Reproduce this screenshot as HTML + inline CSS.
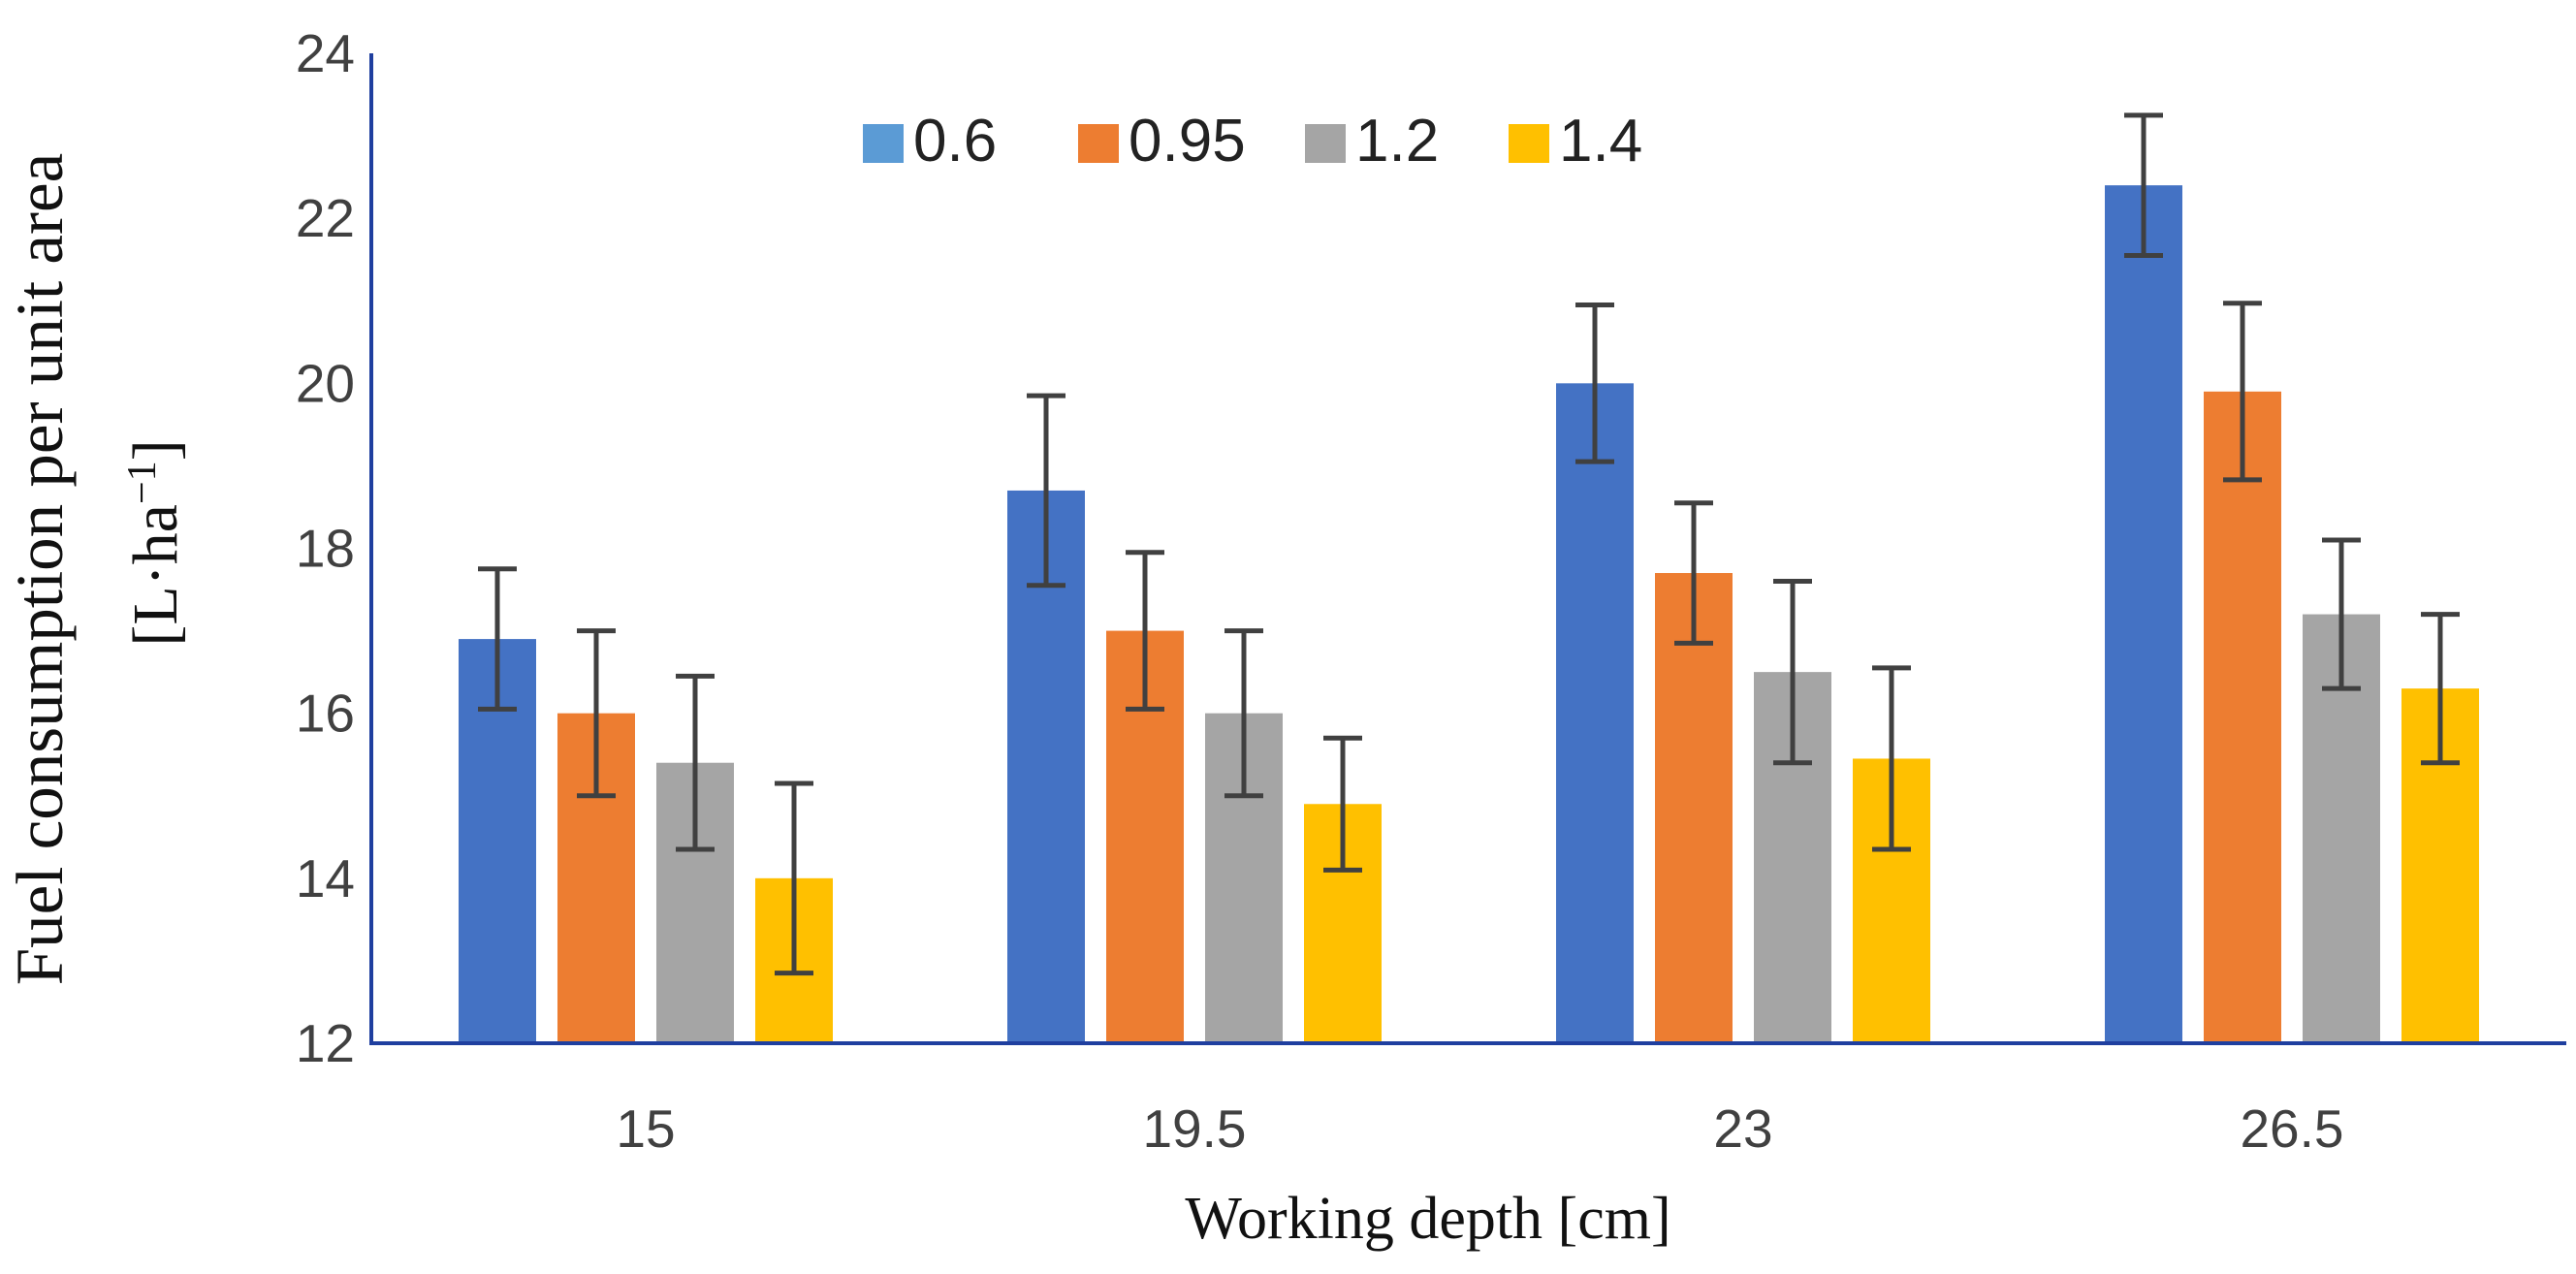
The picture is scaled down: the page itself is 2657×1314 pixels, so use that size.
<!DOCTYPE html>
<html><head><meta charset="utf-8"><style>
html,body{margin:0;padding:0;background:#fff;}
svg{display:block;}
.tick{font-family:"Liberation Sans",sans-serif;font-size:55px;fill:#404040;}
.ttl{font-family:"Liberation Serif",serif;font-size:62px;fill:#111;}
.leg{font-family:"Liberation Sans",sans-serif;font-size:62px;fill:#222;}
</style></head><body>
<svg id="chart" width="2657" height="1314" viewBox="0 0 2657 1314" xmlns="http://www.w3.org/2000/svg">
<text class="ttl" transform="translate(64,587) rotate(-90)" text-anchor="middle" style="font-size:69px">Fuel consumption per unit area</text>
<text class="ttl" transform="translate(182,560) rotate(-90)" text-anchor="middle" style="font-size:66px">[L·ha<tspan dy="-22" font-size="42">−1</tspan><tspan dy="22">]</tspan></text>
<text class="ttl" x="1473" y="1277" text-anchor="middle">Working depth [cm]</text>
<g id="plot"></g>
</svg>
<script>
const categories = ["15","19.5","23","26.5"];
const seriesNames = ["0.6","0.95","1.2","1.4"];
const s06 = [16.9, 18.7, 20.0, 22.4];
const s095 = [16.0, 17.0, 17.7, 19.9];
const s12 = [15.4, 16.0, 16.5, 17.2];
const s14 = [14.0, 14.9, 15.45, 16.3];
const e06 = [0.85, 1.15, 0.95, 0.85];
const e095 = [1.0, 0.95, 0.85, 1.07];
const e12 = [1.05, 1.0, 1.1, 0.9];
const e14 = [1.15, 0.8, 1.1, 0.9];
const yTicks = [12,14,16,18,20,22,24];

const series=[s06,s095,s12,s14], errs=[e06,e095,e12,e14];
const colors=["#4472C4","#ED7D31","#A5A5A5","#FFC000"];
const legColors=["#5B9BD5","#ED7D31","#A5A5A5","#FFC000"];
const X0=383,X1=2647,Y0=1076,Y1=55,ymin=12,ymax=24;
const y=v=>Y0-(v-ymin)/(ymax-ymin)*(Y0-Y1);
const band=(X1-X0)/categories.length;
const cx=i=>X0+band*(i+0.5);
const bw=80,step=102;
const NS="http://www.w3.org/2000/svg";
const g=document.getElementById('plot');
function mk(t,a){const e=document.createElementNS(NS,t);for(const k in a)e.setAttribute(k,a[k]);g.appendChild(e);return e;}
yTicks.forEach(v=>{
 const t=mk('text',{x:366,y:y(v)+19,'text-anchor':'end',class:'tick'});
 
 
 t.textContent=v;
});
categories.forEach((c,i)=>{
 const t=mk('text',{x:cx(i),y:1183,'text-anchor':'middle',class:'tick'});
 
 
 t.textContent=c;
 series.forEach((s,j)=>{
  const xl=cx(i)-(step*4-(step-bw))/2+j*step;
  const r=mk('rect',{x:xl,y:y(s[i]),width:bw,height:Y0-y(s[i]),fill:colors[j]});
  
  
  const xm=xl+bw/2,hi=y(s[i]+errs[j][i]),lo=y(s[i]-errs[j][i]);
  const eb=mk('path',{d:`M${xm},${hi}V${lo}M${xm-20},${hi}H${xm+20}M${xm-20},${lo}H${xm+20}`,stroke:'#404040','stroke-width':5,fill:'none'});
  
  
 });
});
const ax=mk('path',{d:`M${X0},${Y1}V${Y0}H${X1}`,stroke:'#1F3F9F','stroke-width':4,fill:'none'});


const legX=[890,1112,1346,1556];
seriesNames.forEach((n,j)=>{
 const sq=mk('rect',{x:legX[j],y:128,width:42,height:40,fill:legColors[j]});
 
 
 const t=mk('text',{x:legX[j]+52,y:166,class:'leg'});
 
 
 t.textContent=n;
});
</script>
</body></html>
